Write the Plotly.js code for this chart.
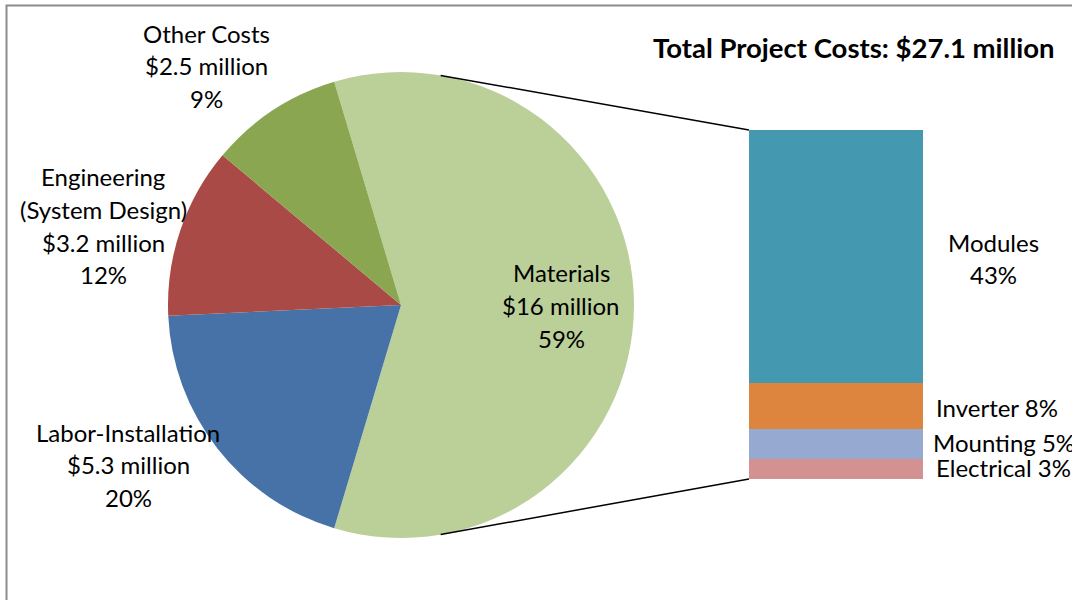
<!DOCTYPE html>
<html>
<head>
<meta charset="utf-8">
<script src="https://cdn.plot.ly/plotly-3.0.1.min.js"></script>
<style>html,body{margin:0;padding:0;background:#fff;}#chart{width:1072px;height:600px;}</style>
</head>
<body>
<div id="chart"></div>
<script>
// ---- data ----
var pieLabels = ["Materials", "Labor-Installation", "Engineering<br>(System Design)", "Other Costs"];
var pieValues = [16, 5.3, 3.2, 2.5];
var pieMoney = ["$16 million", "$5.3 million", "$3.2 million", "$2.5 million"];
var piePct = ["59%", "20%", "12%", "9%"];
var pieColors = ["#BBCF99", "#4672A8", "#AA4A47", "#8AA650"];

var barLabels = ["Modules", "Inverter", "Mounting", "Electrical"];
var barValues = [11.6, 2.1, 1.4, 0.9];
var barPct = ["43%", "8%", "5%", "3%"];
var barColors = ["#4499B1", "#DD853F", "#95A9D1", "#D49191"];

var titleText = "Total Project Costs: $27.1 million";

// ---- layout geometry ----
var W = 1072, H = 600;
var cx = 401, cy = 305, R = 233;   // pie centre / radius (px)
var pieDom = {x: [(cx - R) / W, (cx + R) / W], y: [(H - cy - R) / H, (H - cy + R) / H]};
var barX = [749 / W, 923 / W], barY = [(H - 479) / H, (H - 130) / H];

var total = pieValues.reduce(function (a, b) { return a + b; }, 0);
var rot = 90 - 180 * pieValues[0] / total;

var data = [{
  type: "pie",
  values: pieValues,
  labels: pieLabels,
  marker: {colors: pieColors, line: {width: 0}},
  sort: false,
  direction: "clockwise",
  rotation: rot,
  textinfo: "none",
  hoverinfo: "label+value",
  domain: pieDom,
  showlegend: false
}];
// stacked bar: bottom to top Electrical, Mounting, Inverter, Modules
for (var i = barLabels.length - 1; i >= 0; i--) {
  data.push({
    type: "bar", x: [0], y: [barValues[i]], name: barLabels[i],
    marker: {color: barColors[i], line: {width: 0}},
    width: 1, xaxis: "x", yaxis: "y", showlegend: false, hoverinfo: "name+y"
  });
}
var barTotal = barValues.reduce(function (a, b) { return a + b; }, 0);

var font = {family: "Lato, 'Open Sans', sans-serif", size: 24, color: "#000"};
var ann = [];
function lines(arr, x, y0, dy, anchor) {
  arr.forEach(function (t, k) {
    ann.push({xref: "paper", yref: "paper", x: x / W, y: 1 - (y0 + k * dy) / H,
      text: t, showarrow: false, font: font, xanchor: anchor || "center", yanchor: "middle"});
  });
}
lines(["Other Costs", pieMoney[3], piePct[3]], 206, 33, 32.5);
lines(["Engineering", "(System Design)", pieMoney[2], piePct[2]], 103, 177, 32.5);
lines(["Labor-Installation", pieMoney[1], piePct[1]], 128, 432, 32.5);
lines(["Materials", pieMoney[0], piePct[0]], 561, 272, 33);
lines([barLabels[0], barPct[0]], 993, 242, 32);
lines([barLabels[1] + " " + barPct[1]], 934, 407, 0, "left");
lines([barLabels[2] + " " + barPct[2]], 931, 442, 0, "left");
lines([barLabels[3] + " " + barPct[3]], 934, 467, 0, "left");
ann.push({xref: "paper", yref: "paper", x: 854 / W, y: 1 - 48 / H, text: "<b>" + titleText + "</b>",
  showarrow: false, font: {family: font.family, size: 27.5, color: "#000"}, xanchor: "center", yanchor: "middle"});

// connector points on pie edge
var th = 9.8 * Math.PI / 180;
var pTop = {x: (cx + R * Math.sin(th)) / W, y: 1 - (cy - R * Math.cos(th)) / H};
var pBot = {x: (cx + R * Math.sin(th)) / W, y: 1 - (cy + R * Math.cos(th)) / H};

var layout = {
  width: W, height: H,
  margin: {l: 0, r: 0, t: 0, b: 0},
  paper_bgcolor: "#fff", plot_bgcolor: "rgba(0,0,0,0)",
  barmode: "stack", bargap: 0,
  xaxis: {domain: barX, range: [-0.5, 0.5], visible: false, fixedrange: true},
  yaxis: {domain: barY, range: [0, barTotal], visible: false, fixedrange: true},
  annotations: ann,
  shapes: [
    {type: "line", xref: "paper", yref: "paper", x0: pTop.x, y0: pTop.y, x1: barX[0], y1: barY[1], line: {color: "#000", width: 1.5}},
    {type: "line", xref: "paper", yref: "paper", x0: pBot.x, y0: pBot.y, x1: barX[0], y1: barY[0], line: {color: "#000", width: 1.5}},
    {type: "rect", xref: "paper", yref: "paper", x0: 6.5 / W, x1: 1.05, y0: -0.05, y1: 1 - 5.5 / H, line: {color: "#8c8c8c", width: 2}}
  ]
};
Plotly.newPlot("chart", data, layout, {displayModeBar: false, staticPlot: true});
</script>
</body>
</html>
